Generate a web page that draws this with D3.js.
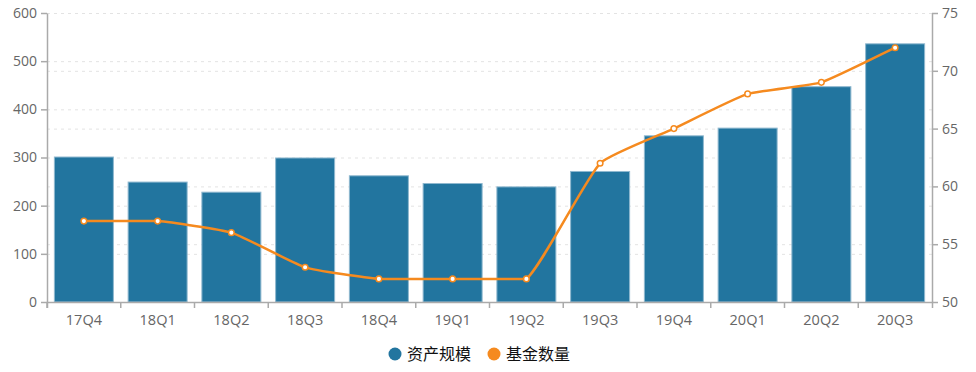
<!DOCTYPE html>
<html>
<head>
<meta charset="utf-8">
<script src="https://cdn.jsdelivr.net/npm/d3@7"></script>
<style>
  body { margin: 0; background: #fff; }
  svg { display: block; font-family: "Noto Sans CJK SC", "DejaVu Sans", sans-serif; }
</style>
</head>
<body>
<div id="chart"></div>
<script>
var quarters = ['17Q4', '18Q1', '18Q2', '18Q3', '18Q4', '19Q1', '19Q2', '19Q3', '19Q4', '20Q1', '20Q2', '20Q3'];
var assetSize = [301, 249, 228, 299, 262, 246, 239, 271, 345, 361, 447, 536];
var fundCount = [57, 57, 56, 53, 52, 52, 52, 62, 65, 68, 69, 72];
var leftTicks = [0, 100, 200, 300, 400, 500, 600];
var rightTicks = [50, 55, 60, 65, 70, 75];
var legendNames = ['资产规模', '基金数量'];
var colors = ['#22759f', '#f58a1f'];

var width = 976, height = 372;
var margin = {top: 13, right: 44, bottom: 70, left: 47};
var innerW = width - margin.left - margin.right;
var innerH = height - margin.top - margin.bottom;

var svg = d3.select('#chart').append('svg')
    .attr('width', width)
    .attr('height', height);

var g = svg.append('g').attr('transform', 'translate(' + margin.left + ',' + margin.top + ')');

var x = d3.scaleBand().domain(quarters).range([0, innerW]).paddingInner(0.2).paddingOuter(0.1);
var xPoint = d3.scaleBand().domain(quarters).range([0, innerW]);
var yLeft = d3.scaleLinear().domain([0, 600]).range([innerH, 0]);
var yRight = d3.scaleLinear().domain([50, 75]).range([innerH, 0]);

// grid lines, both axes
g.append('g').selectAll('line.gl')
    .data(leftTicks.slice(1))
    .enter().append('line')
    .attr('x1', 0).attr('x2', innerW)
    .attr('y1', function(d){ return yLeft(d) + 0.5; })
    .attr('y2', function(d){ return yLeft(d) + 0.5; })
    .attr('stroke', '#e3e3e3')
    .attr('stroke-dasharray', '3,4');

g.append('g').selectAll('line.gr')
    .data(rightTicks.slice(1, -1))
    .enter().append('line')
    .attr('x1', 0).attr('x2', innerW)
    .attr('y1', function(d){ return yRight(d) + 0.5; })
    .attr('y2', function(d){ return yRight(d) + 0.5; })
    .attr('stroke', '#e3e3e3')
    .attr('stroke-dasharray', '3,4');

// bars
g.append('g').selectAll('rect')
    .data(assetSize)
    .enter().append('rect')
    .attr('x', function(d, i){ return x(quarters[i]); })
    .attr('width', x.bandwidth())
    .attr('y', function(d){ return yLeft(d); })
    .attr('height', function(d){ return innerH - yLeft(d); })
    .attr('fill', colors[0])
    .attr('stroke', '#8fb8cf')
    .attr('stroke-width', 1);

// axes
var styleAxis = function(sel) {
    sel.select('.domain').attr('stroke', '#aaa').attr('stroke-width', 1.5);
    sel.selectAll('.tick line').attr('stroke', '#aaa').attr('stroke-width', 1.5);
    sel.selectAll('.tick text').attr('fill', '#666').style('font-size', '14px')
        .style('font-family', '"Open Sans", "DejaVu Sans", sans-serif');
};

g.append('g')
    .attr('transform', 'translate(0,' + innerH + ')')
    .call(d3.axisBottom(xPoint).tickSize(6).tickSizeOuter(6).tickFormat(''))
    .call(function(sel){
        sel.selectAll('.tick line').attr('transform', 'translate(' + (-xPoint.bandwidth() / 2) + ',0)');
        styleAxis(sel);
    });

g.append('g')
    .attr('transform', 'translate(0,' + innerH + ')')
    .selectAll('text')
    .data(quarters)
    .enter().append('text')
    .attr('x', function(d){ return xPoint(d) + xPoint.bandwidth() / 2; })
    .attr('y', 23)
    .attr('text-anchor', 'middle')
    .attr('fill', '#666')
    .style('font-size', '14.5px')
    .style('font-family', '"Open Sans", "DejaVu Sans", sans-serif')
    .text(function(d){ return d; });

g.append('g')
    .call(d3.axisLeft(yLeft).tickValues(leftTicks).tickSize(6).tickSizeOuter(0).tickPadding(4))
    .call(styleAxis);

g.append('g')
    .attr('transform', 'translate(' + innerW + ',0)')
    .call(d3.axisRight(yRight).tickValues(rightTicks).tickSize(6).tickSizeOuter(0).tickPadding(4))
    .call(styleAxis);

// line: lightly smoothed, control points kept between neighbours (no overshoot)
var smoothPath = function(pts, smooth) {
    var d = 'M' + pts[0][0] + ',' + pts[0][1];
    var cps = pts.map(function(p, i){
        var prev = pts[Math.max(i - 1, 0)];
        var next = pts[Math.min(i + 1, pts.length - 1)];
        var vx = next[0] - prev[0], vy = next[1] - prev[1];
        var d0 = Math.hypot(p[0] - prev[0], p[1] - prev[1]);
        var d1 = Math.hypot(next[0] - p[0], next[1] - p[1]);
        var ratio = (d0 + d1) ? d1 / (d0 + d1) : 0.5;
        var c0 = [p[0] - vx * smooth * (1 - ratio), p[1] - vy * smooth * (1 - ratio)];
        var c1 = [p[0] + vx * smooth * ratio, p[1] + vy * smooth * ratio];
        c0[1] = Math.max(Math.min(p[1], prev[1]), Math.min(Math.max(p[1], prev[1]), c0[1]));
        c1[1] = Math.max(Math.min(p[1], next[1]), Math.min(Math.max(p[1], next[1]), c1[1]));
        return [c0, c1];
    });
    for (var i = 1; i < pts.length; i++) {
        d += 'C' + cps[i - 1][1] + ' ' + cps[i][0] + ' ' + pts[i];
    }
    return d;
};

var linePts = fundCount.map(function(d, i){
    return [x(quarters[i]) + x.bandwidth() / 2, yRight(d)];
});

g.append('path')
    .attr('d', smoothPath(linePts, 0.15))
    .attr('fill', 'none')
    .attr('stroke', colors[1])
    .attr('stroke-width', 2.5);

g.append('g').selectAll('circle')
    .data(fundCount)
    .enter().append('circle')
    .attr('cx', function(d, i){ return x(quarters[i]) + x.bandwidth() / 2; })
    .attr('cy', function(d){ return yRight(d); })
    .attr('r', 2.8)
    .attr('fill', '#fff')
    .attr('stroke', colors[1])
    .attr('stroke-width', 1.5);

// legend
var legend = svg.append('g').attr('transform', 'translate(395,354)');
var legendX = [0, 99];
legendNames.forEach(function(name, i){
    var item = legend.append('g').attr('transform', 'translate(' + legendX[i] + ',0)');
    item.append('circle').attr('r', 6.5).attr('fill', colors[i]);
    item.append('text')
        .attr('x', 12)
        .attr('y', 6)
        .attr('fill', '#111')
        .style('font-size', '16px')
        .text(name);
});
</script>
</body>
</html>
